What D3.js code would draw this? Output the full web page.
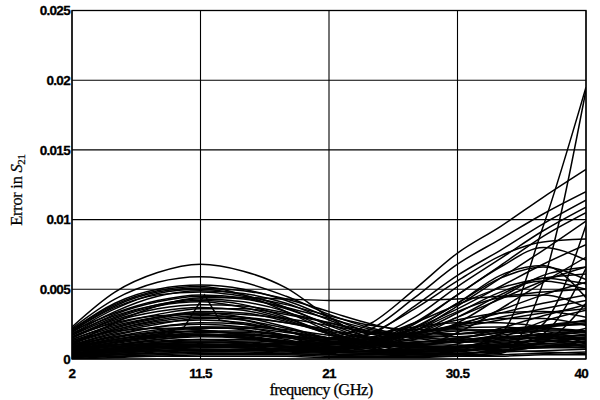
<!DOCTYPE html>
<html>
<head>
<meta charset="utf-8">
<script src="https://cdn.jsdelivr.net/npm/d3@7"></script>
<style>
  html, body { margin: 0; padding: 0; background: #fff; }
  svg { display: block; }
</style>
</head>
<body>
<svg id="chart" width="600" height="400"></svg>
<script>
// ---- data (errors in units of 1e-3) ----
const freq = [2, 5.17, 8.33, 11.5, 14.67, 17.83, 21, 24.17, 27.33, 30.5, 33.67, 36.83, 40];
const xTicks = [2, 11.5, 21, 30.5, 40];
const xTickLabels = ["2", "11.5", "21", "30.5", "40"];
const yTicks = [0, 5, 10, 15, 20, 25];
const yTickLabels = ["0", "0.005", "0.01", "0.015", "0.02", "0.025"];

const leftArches = [
  [2.3, 4.8, 6.2, 6.8, 6.3, 5.1, 3.0, 1.4, 0.8, 0.9, 1.2, 1.3, 1.2],
  [2.2, 4.3, 5.5, 5.9, 5.5, 4.5, 3.2, 2.2, 1.6, 1.4, 1.5, 1.8, 2.0],
  [2.1, 4.0, 5.0, 5.3, 5.0, 4.2, 3.0, 1.9, 1.6, 2.6, 4.4, 6.0, 6.6],
  [2.0, 3.8, 4.8, 5.1, 4.9, 4.3, 3.4, 2.5, 1.9, 1.8, 2.0, 2.3, 2.5],
  [1.9, 3.6, 4.7, 5.0, 4.6, 3.7, 2.4, 1.3, 0.7, 0.6, 0.9, 1.4, 1.8],
  [1.8, 3.4, 4.5, 4.9, 4.7, 4.0, 2.8, 1.8, 1.8, 3.0, 4.6, 5.8, 5.4],
  [2.0, 3.3, 4.2, 4.6, 4.4, 3.6, 2.5, 1.5, 0.9, 0.8, 1.0, 1.1, 1.0],
  [1.7, 3.0, 3.9, 4.3, 4.1, 3.4, 2.2, 1.1, 0.4, 0.3, 0.8, 1.5, 2.2],
  [1.6, 2.8, 3.6, 3.9, 3.8, 3.3, 2.6, 1.8, 1.3, 1.2, 1.4, 1.6, 1.7],
  [1.5, 2.7, 3.4, 3.7, 3.5, 2.8, 1.8, 1.0, 0.7, 0.9, 1.3, 1.5, 1.4],
  [1.4, 2.5, 3.2, 3.6, 3.6, 3.2, 2.6, 2.0, 1.6, 1.6, 1.9, 2.3, 2.6],
  [1.3, 2.3, 3.0, 3.4, 3.3, 2.7, 1.8, 0.9, 0.3, 0.2, 0.5, 0.9, 1.2],
  [1.2, 2.1, 2.8, 3.1, 3.0, 2.6, 2.0, 1.4, 1.1, 1.3, 1.7, 2.0, 2.0],
  [1.0, 1.9, 2.5, 2.9, 2.9, 2.6, 2.1, 1.5, 1.0, 0.8, 0.9, 1.2, 1.5],
  [0.9, 1.7, 2.3, 2.6, 2.5, 2.0, 1.3, 0.7, 0.4, 0.5, 0.8, 1.1, 1.3],
  [0.8, 1.5, 2.0, 2.3, 2.3, 2.1, 1.7, 1.2, 0.9, 0.9, 1.1, 1.4, 1.6],
  [0.6, 1.2, 1.7, 2.0, 2.0, 1.7, 1.2, 0.7, 0.5, 0.6, 0.9, 1.0, 0.9],
  [0.5, 1.0, 1.4, 1.7, 1.8, 1.6, 1.3, 1.0, 0.8, 0.7, 0.7, 0.8, 1.0],
  [0.3, 0.8, 1.2, 1.4, 1.4, 1.2, 0.9, 0.6, 0.5, 0.6, 0.8, 0.9, 0.8],
  [0.2, 0.5, 0.8, 1.0, 1.0, 0.9, 0.7, 0.5, 0.4, 0.4, 0.5, 0.6, 0.7],
  [1.0, 2.6, 3.8, 4.4, 4.4, 4.3, 4.2, 4.2, 4.2, 4.3, 4.5, 4.8, 5.0],
  [1.6, 2.6, 3.1, 3.2, 2.8, 2.0, 1.2, 0.6, 0.6, 1.1, 1.8, 2.4, 2.7],
  [1.8, 3.1, 3.9, 4.2, 3.9, 3.0, 1.8, 0.8, 0.3, 0.6, 1.5, 2.7, 3.5],
  [2.1, 3.9, 4.9, 5.2, 4.6, 3.4, 2.0, 1.0, 0.9, 1.9, 3.6, 5.5, 7.3],
  [2.0, 3.7, 4.6, 4.8, 4.5, 3.9, 3.1, 2.4, 2.1, 2.3, 2.8, 3.3, 3.6],
  [1.7, 3.2, 4.1, 4.5, 4.3, 3.7, 2.9, 2.1, 1.5, 1.2, 1.3, 1.6, 2.0],
  [1.5, 2.9, 3.8, 4.1, 3.7, 2.9, 1.9, 1.2, 1.0, 1.4, 2.2, 3.1, 3.9],
  [1.1, 2.2, 2.9, 3.3, 3.2, 2.9, 2.4, 1.9, 1.7, 1.8, 2.1, 2.4, 2.5],
  [0.7, 1.4, 1.9, 2.2, 2.2, 1.9, 1.5, 1.2, 1.2, 1.5, 1.9, 2.1, 2.0]
];

const rightRisers = [
  [0.4, 0.7, 0.9, 1.0, 1.0, 1.2, 1.5, 2.6, 5.0, 7.6, 9.5, 11.6, 13.6],
  [0.6, 1.1, 1.5, 1.7, 1.7, 1.6, 1.5, 2.2, 4.4, 6.8, 8.6, 10.4, 12.0],
  [1.1, 2.0, 2.6, 2.8, 2.6, 2.0, 1.2, 1.8, 3.8, 6.0, 7.8, 9.7, 11.4],
  [0.3, 0.6, 0.8, 0.9, 0.9, 0.9, 1.0, 1.5, 3.0, 5.2, 7.2, 9.2, 10.9],
  [0.9, 1.6, 2.1, 2.3, 2.1, 1.6, 0.9, 1.3, 2.6, 4.6, 6.7, 8.8, 10.5],
  [0.5, 0.9, 1.1, 1.2, 1.1, 0.9, 0.8, 1.0, 2.0, 3.8, 5.8, 7.8, 9.9],
  [1.0, 1.8, 2.3, 2.5, 2.3, 1.7, 1.1, 1.3, 2.2, 3.6, 5.2, 6.8, 8.2],
  [0.6, 1.0, 1.3, 1.4, 1.2, 0.9, 0.7, 1.0, 1.8, 3.0, 4.3, 5.6, 6.6],
  [1.4, 2.4, 3.0, 3.3, 3.0, 2.3, 1.5, 1.2, 1.5, 2.4, 3.5, 4.6, 5.5],
  [0.8, 1.3, 1.6, 1.7, 1.5, 1.2, 1.0, 1.2, 1.8, 2.5, 3.3, 4.0, 4.6],
  [0.2, 0.5, 0.7, 0.9, 1.0, 1.0, 1.1, 1.4, 1.9, 2.4, 3.0, 3.6, 4.2],
  [0.3, 0.7, 1.0, 1.2, 1.2, 1.1, 1.1, 1.9, 3.6, 5.6, 7.4, 8.4, 8.6],
  [0.6, 1.2, 1.6, 1.9, 1.9, 1.7, 1.4, 1.6, 2.6, 3.9, 5.1, 5.8, 6.1]
];

const lateRisers = [
  [0.3, 0.6, 0.9, 1.0, 0.9, 0.7, 0.5, 0.4, 0.5, 0.8, 1.8, 9.5, 19.5],
  [0.7, 1.3, 1.6, 1.7, 1.5, 1.1, 0.7, 0.5, 0.4, 0.3, 0.4, 5.5, 19.3],
  [0.2, 0.4, 0.6, 0.7, 0.7, 0.6, 0.5, 0.5, 0.6, 0.8, 1.0, 2.5, 9.6],
  [0.4, 0.8, 1.1, 1.2, 1.1, 0.8, 0.5, 0.4, 0.5, 0.6, 0.9, 1.8, 6.5],
  [0.1, 0.3, 0.5, 0.6, 0.6, 0.5, 0.4, 0.3, 0.3, 0.4, 0.6, 1.2, 4.0]
];

const rightArches = [
  [0.8, 1.4, 1.8, 2.0, 1.8, 1.4, 0.8, 1.2, 2.5, 4.6, 6.6, 8.0, 7.1],
  [0.5, 1.0, 1.4, 1.6, 1.5, 1.2, 0.9, 1.1, 2.2, 4.0, 5.8, 6.6, 5.7],
  [1.2, 2.1, 2.7, 3.0, 2.8, 2.2, 1.5, 1.4, 2.3, 4.0, 6.0, 6.7, 4.4],
  [0.7, 1.2, 1.6, 1.8, 1.6, 1.2, 0.8, 0.9, 1.8, 3.3, 4.8, 5.6, 5.0],
  [0.4, 0.7, 1.0, 1.1, 1.0, 0.8, 0.6, 1.0, 2.0, 3.4, 4.4, 4.6, 3.7]
];

const lowCurves = [
  [0.1, 0.3, 0.4, 0.5, 0.5, 0.4, 0.3, 0.3, 0.5, 0.8, 1.1, 1.3, 1.5],
  [0.4, 0.6, 0.8, 0.9, 0.8, 0.6, 0.5, 0.6, 0.9, 1.3, 1.6, 1.7, 1.5],
  [0.0, 0.2, 0.3, 0.4, 0.4, 0.4, 0.3, 0.2, 0.2, 0.2, 0.3, 0.4, 0.5],
  [0.3, 0.5, 0.6, 0.6, 0.6, 0.6, 0.7, 0.9, 1.2, 1.5, 1.9, 2.3, 2.8],
  [0.5, 0.8, 1.0, 1.0, 0.9, 0.9, 1.0, 1.3, 1.8, 2.2, 2.3, 2.0, 1.4],
  [0.2, 0.3, 0.4, 0.5, 0.6, 0.8, 1.1, 1.5, 1.9, 2.1, 2.0, 1.6, 1.1],
  [0.9, 1.4, 1.7, 1.8, 1.6, 1.3, 1.2, 1.5, 2.1, 2.8, 3.3, 3.4, 3.0],
  [0.1, 0.2, 0.2, 0.3, 0.3, 0.3, 0.2, 0.2, 0.3, 0.4, 0.6, 0.9, 1.3],
  [1.3, 2.0, 2.2, 2.1, 1.7, 1.3, 1.1, 1.3, 1.7, 2.0, 2.1, 1.8, 1.2],
  [0.0, 0.1, 0.2, 0.2, 0.2, 0.2, 0.1, 0.1, 0.1, 0.2, 0.2, 0.3, 0.3],
  [0.7, 1.0, 1.1, 1.0, 0.8, 0.6, 0.5, 0.6, 0.7, 0.7, 0.6, 0.5, 0.4],
  [0.2, 0.5, 0.7, 0.8, 0.9, 1.1, 1.4, 1.8, 2.3, 2.6, 2.6, 2.3, 1.9],
  [0.6, 0.9, 1.2, 1.3, 1.3, 1.2, 1.1, 1.1, 1.2, 1.4, 1.5, 1.5, 1.4],
  [0.1, 0.4, 0.6, 0.7, 0.7, 0.7, 0.8, 1.0, 1.4, 1.8, 2.1, 2.2, 2.0],
  [0.4, 0.7, 0.9, 0.9, 0.8, 0.7, 0.7, 0.8, 1.0, 1.0, 0.9, 0.8, 0.8],
  [1.0, 1.6, 1.9, 2.0, 1.8, 1.5, 1.3, 1.4, 1.8, 2.4, 2.9, 2.9, 2.4]
];

// one curve with a sharp kink near 11.8 GHz
const spikeFreq = [2, 5.17, 8.33, 10.3, 11.8, 12.9, 14.67, 17.83, 21, 24.17, 27.33, 30.5, 33.67, 36.83, 40];
const spikeVals = [0.6, 1.2, 1.8, 2.3, 4.6, 2.8, 2.5, 2.0, 1.5, 1.1, 1.0, 1.2, 1.5, 1.7, 1.9];

// ---- drawing ----
const svg = d3.select("#chart");
const plotLeft = 72, plotRight = 586, plotTop = 10.5, plotBottom = 359;

const x = d3.scaleLinear().domain([2, 40]).range([plotLeft, plotRight]);
const y = d3.scaleLinear().domain([0, 25]).range([plotBottom, plotTop]);

const g = svg.append("g");

// grid
g.selectAll("line.vg").data(xTicks).join("line")
  .attr("class", "vg")
  .attr("x1", d => x(d)).attr("x2", d => x(d))
  .attr("y1", plotTop).attr("y2", plotBottom)
  .attr("stroke", "#000").attr("stroke-width", 1.1);
g.selectAll("line.hg").data(yTicks).join("line")
  .attr("class", "hg")
  .attr("x1", plotLeft).attr("x2", plotRight)
  .attr("y1", d => y(d)).attr("y2", d => y(d))
  .attr("stroke", "#000").attr("stroke-width", 1.1);

// curves
const lineGen = d3.line()
  .x((d, i) => x(freq[i]))
  .y(d => y(d))
  .curve(d3.curveMonotoneX);

const allCurves = [].concat(leftArches, rightRisers, lateRisers, rightArches, lowCurves);

svg.append("clipPath").attr("id", "plotclip")
  .append("rect").attr("x", plotLeft).attr("y", plotTop - 1)
  .attr("width", plotRight - plotLeft).attr("height", plotBottom - plotTop + 1);

const curvesG = g.append("g").attr("clip-path", "url(#plotclip)");
curvesG.selectAll("path.curve").data(allCurves).join("path")
  .attr("class", "curve")
  .attr("d", lineGen)
  .attr("fill", "none")
  .attr("stroke", "#000")
  .attr("stroke-width", 1.5);

const spikeLine = d3.line()
  .x((d, i) => x(spikeFreq[i]))
  .y(d => y(d))
  .curve(d3.curveLinear);
curvesG.append("path")
  .attr("d", spikeLine(spikeVals))
  .attr("fill", "none")
  .attr("stroke", "#000")
  .attr("stroke-width", 1.5);

// frame
g.append("rect")
  .attr("x", plotLeft).attr("y", plotTop)
  .attr("width", plotRight - plotLeft).attr("height", plotBottom - plotTop)
  .attr("fill", "none").attr("stroke", "#000").attr("stroke-width", 1.3);

// tick labels
const tickFont = "'Liberation Sans', Arial, sans-serif";
g.selectAll("text.yt").data(yTicks).join("text")
  .attr("class", "yt")
  .attr("x", plotLeft - 2)
  .attr("y", d => y(d))
  .attr("dy", "0.35em")
  .attr("text-anchor", "end")
  .attr("font-family", tickFont)
  .attr("font-weight", "bold")
  .attr("font-size", 13.5)
  .attr("letter-spacing", -0.7)
  .attr("stroke", "#000").attr("stroke-width", 0.3)
  .text((d, i) => yTickLabels[i]);

g.selectAll("text.xt").data(xTicks).join("text")
  .attr("class", "xt")
  .attr("x", (d, i) => i === xTicks.length - 1 ? x(d) + 2 : x(d))
  .attr("y", 378)
  .attr("text-anchor", (d, i) => i === xTicks.length - 1 ? "end" : "middle")
  .attr("font-family", tickFont)
  .attr("font-weight", "bold")
  .attr("font-size", 13.5)
  .attr("letter-spacing", -0.7)
  .attr("stroke", "#000").attr("stroke-width", 0.3)
  .text((d, i) => xTickLabels[i]);

// axis titles
const serif = "'Liberation Serif', 'Times New Roman', serif";
svg.append("text")
  .attr("x", 321).attr("y", 395)
  .attr("text-anchor", "middle")
  .attr("font-family", serif)
  .attr("font-size", 16.5)
  .attr("letter-spacing", -0.6)
  .attr("stroke", "#000").attr("stroke-width", 0.25)
  .text("frequency (GHz)");

const yl = svg.append("text")
  .attr("transform", "translate(22,190) rotate(-90)")
  .attr("text-anchor", "middle")
  .attr("font-family", serif)
  .attr("font-size", 16.5)
  .attr("letter-spacing", -0.3)
  .attr("stroke", "#000").attr("stroke-width", 0.25);
yl.append("tspan").text("Error in ");
yl.append("tspan").attr("font-style", "italic").text("S");
yl.append("tspan").attr("font-size", 11).attr("dy", 3).text("21");
</script>
</body>
</html>
